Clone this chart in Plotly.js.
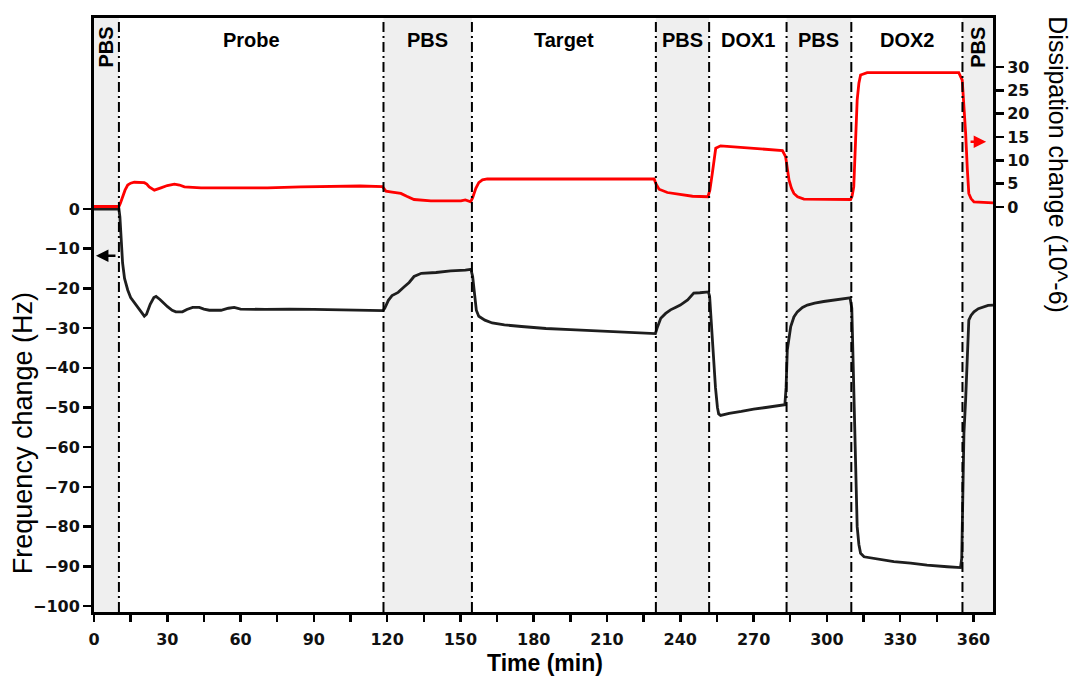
<!DOCTYPE html>
<html>
<head>
<meta charset="utf-8">
<script src="https://cdn.plot.ly/plotly-3.0.1.min.js"></script>
<style>html,body{margin:0;padding:0;background:#fff;}#chart{width:1072px;height:679px;}</style>
</head>
<body>
<div id="chart"></div>
<script>
// ---- data ----
var boundaries = [10.2, 118.5, 154.7, 230, 251.8, 283.5, 310, 355.5];
var segmentNames = ["PBS", "Probe", "PBS", "Target", "PBS", "DOX1", "PBS", "DOX2", "PBS"];
var segmentShaded = [true, false, true, false, true, false, true, false, true];
var timeMax = 368;

var tFreq = [0,5,10.2,10.6,11.2,11.7,12.5,13.8,15,16.5,18,19.5,20.6,21.5,23,24.5,25.4,27,29,30.1,32,33.5,36.2,38,40.4,43.1,45,47.2,52,55,57.4,60,70,80,90,100,110,118.3,
  119,120.5,122,124.5,127,129,131,134,140,146,152,154.3,
  155,155.8,156.5,157.5,160,163,168,175,185,195,205,215,225,229.8,
  230.5,232,234,236,238,240,243,245.5,248,251.5,
  252,252.8,253.6,254.4,255.2,255.7,256.5,260,265,270,275,280,282.8,
  283.3,283.8,285.2,286.5,287.9,290,292,295,298.7,303,306,309.5,
  310.2,311,311.7,312.4,313.1,313.8,315.2,320.6,327.4,334.3,341,349.3,354.7,355.2,
  355.4,356.1,356.8,357.4,358.1,359,360.2,362,364.2,366,368];
var freq = [0,0,0,-2,-8,-13.6,-17.5,-20.4,-22.3,-23.6,-25,-26.3,-27,-26.5,-24,-22.3,-22,-22.8,-24,-24.6,-25.5,-25.9,-25.9,-25.3,-24.8,-24.8,-25.2,-25.5,-25.5,-25,-24.8,-25.2,-25.3,-25.2,-25.3,-25.4,-25.5,-25.6,
  -25,-23,-21.8,-21,-19.6,-18.5,-17,-16.2,-16,-15.6,-15.4,-15.2,
  -17,-22,-25.5,-27,-28,-28.7,-29.2,-29.6,-30.1,-30.4,-30.7,-31,-31.3,-31.4,
  -30,-27.5,-26.3,-25.4,-24.8,-24.2,-22.9,-21.2,-21.1,-20.9,
  -22,-30,-38,-45,-50,-51.6,-52,-51.5,-51,-50.4,-50,-49.6,-49.3,
  -45,-35.5,-29.6,-27.2,-25.9,-24.8,-24.2,-23.7,-23.3,-22.9,-22.7,-22.4,
  -25,-48,-66,-80,-84.5,-86.7,-87.6,-88.2,-88.8,-89.2,-89.7,-90.1,-90.3,-88,
  -81.7,-56.5,-48,-36,-28,-26.8,-25.9,-25.1,-24.6,-24.3,-24.2];

var tDiss = [0,5,10.2,10.8,11.7,12.7,13.8,15,16.5,20.6,21.6,22.6,24.7,26,27.4,30,32.9,35,37,43.8,57.4,71,84.7,100,109,118.1,
  119.5,122,125.6,128,131,137.9,150.2,152,154.2,
  155,156.3,157.5,159,161,229.3,
  230,231.3,234.7,241.5,245,251.3,
  252.1,253.1,253.8,254.5,256.5,264.7,272.9,281.8,
  283.1,284.5,285.5,286.5,288,290.6,309.7,
  310.3,311,311.7,312.4,313.1,313.8,316.5,354,
  355.4,356.1,356.8,357.5,358.1,359,360.2,368];
var diss = [0.1,0.1,0.1,0.8,2.2,3.6,4.7,5.1,5.3,5.2,4.9,4.3,3.6,3.8,4.1,4.6,4.9,4.7,4.3,4.1,4.1,4.1,4.3,4.4,4.5,4.35,
  3.4,3.2,2.9,2.3,1.6,1.3,1.3,1.5,1.1,
  2,4,5.2,5.8,6,6,
  5,3.8,3.1,2.6,2.3,2.2,
  3.6,7.2,10.5,12.6,13.1,12.8,12.4,12.1,
  10.8,5.8,4,2.9,2.2,1.7,1.6,
  2.3,4.3,13,22.9,26.5,28.3,28.8,28.8,
  27.2,22,15.8,8,2.9,1.8,1.1,0.9];

var freqTicks = [-100,-90,-80,-70,-60,-50,-40,-30,-20,-10,0];
var dissTicks = [0,5,10,15,20,25,30];
var freqArrowLevel = -11.8;
var dissArrowLevel = 14;

// ---- build shapes / annotations ----
var edges = [0].concat(boundaries).concat([timeMax]);
var shapes = [];
var annotations = [];
for (var i = 0; i < segmentNames.length; i++) {
  var a = edges[i], b = edges[i + 1];
  if (segmentShaded[i]) {
    shapes.push({type: 'rect', xref: 'x', yref: 'paper', x0: a, x1: b, y0: 0, y1: 1,
      fillcolor: '#efefef', line: {width: 0}, layer: 'below'});
  }
  var narrow = (b - a) < 15;
  annotations.push({
    xref: 'x', yref: 'paper', x: (a + b) / 2, y: narrow ? 0.951 : 0.963,
    text: '<b>' + segmentNames[i] + '</b>', showarrow: false,
    textangle: narrow ? -90 : 0, xanchor: 'center', yanchor: 'middle',
    font: {family: 'Liberation Sans, Arial, sans-serif', size: 20, color: '#000'}
  });
}
boundaries.forEach(function (bx) {
  shapes.push({type: 'line', xref: 'x', yref: 'paper', x0: bx, x1: bx, y0: 0, y1: 1,
    line: {color: '#000', width: 2, dash: '10px,4px,2px,4px'}, layer: 'above'});
});

// axis titles
annotations.push({xref: 'paper', yref: 'paper', x: 0.5017, y: -0.0859, showarrow: false,
  text: '<b>Time (min)</b>', xanchor: 'center', yanchor: 'middle',
  font: {family: 'Liberation Sans, Arial, sans-serif', size: 23, color: '#000'}});
annotations.push({xref: 'paper', yref: 'paper', x: -0.079, y: 0.301, showarrow: false,
  text: 'Frequency change (Hz)', textangle: -90, xanchor: 'center', yanchor: 'middle',
  font: {family: 'Liberation Sans, Arial, sans-serif', size: 27, color: '#000'}});
annotations.push({xref: 'paper', yref: 'paper', x: 1.072, y: 0.7525, showarrow: false,
  text: 'Dissipation change (10^-6)', textangle: 90, xanchor: 'center', yanchor: 'middle',
  font: {family: 'Liberation Sans, Arial, sans-serif', size: 25, color: '#000'}});

// arrows
annotations.push({xref: 'x', yref: 'y', axref: 'x', ayref: 'y', x: 0.8, y: freqArrowLevel,
  ax: 9.4, ay: freqArrowLevel, text: '', showarrow: true, arrowhead: 2, arrowsize: 1,
  arrowwidth: 2.5, arrowcolor: '#000'});
annotations.push({xref: 'x', yref: 'y2', axref: 'x', ayref: 'y2', x: 365.2, y: dissArrowLevel,
  ax: 358.2, ay: dissArrowLevel, text: '', showarrow: true, arrowhead: 2, arrowsize: 1,
  arrowwidth: 2.5, arrowcolor: '#ff0000'});

var tickFont = {family: 'DejaVu Sans, Verdana, sans-serif', size: 16, color: '#111', weight: 'bold'};

var traces = [
  {x: tFreq, y: freq, type: 'scatter', mode: 'lines', yaxis: 'y',
   line: {color: '#1e1e1e', width: 2.8}, name: 'Frequency', hoverinfo: 'skip'},
  {x: tDiss, y: diss, type: 'scatter', mode: 'lines', yaxis: 'y2',
   line: {color: '#ff0000', width: 2.8}, name: 'Dissipation', hoverinfo: 'skip'}
];

var layout = {
  width: 1072, height: 679,
  margin: {l: 94, r: 79, t: 18, b: 67, pad: 0},
  paper_bgcolor: '#fff', plot_bgcolor: '#fff',
  showlegend: false,
  xaxis: {range: [0, timeMax], dtick: 30, tick0: 0, showgrid: false, zeroline: false,
    showline: true, linecolor: '#000', linewidth: 3, mirror: true,
    ticks: 'outside', ticklen: 7, tickwidth: 2.5, tickcolor: '#000',
    ticklabelstandoff: 4,
    minor: {dtick: 15, ticks: 'outside', ticklen: 7, tickwidth: 2.5, tickcolor: '#000'},
    tickfont: tickFont},
  yaxis: {range: [-101.5, 48.1], tickvals: freqTicks, showgrid: false, zeroline: false,
    showline: true, linecolor: '#000', linewidth: 3,
    ticks: 'outside', ticklen: 8, tickwidth: 2.5, tickcolor: '#000', tickfont: tickFont},
  yaxis2: {range: [-86.8, 40.5], tickvals: dissTicks, overlaying: 'y', side: 'right',
    showgrid: false, zeroline: false, showline: true, linecolor: '#000', linewidth: 3,
    ticks: 'outside', ticklen: 8, tickwidth: 2.5, tickcolor: '#000', tickfont: tickFont},
  shapes: shapes,
  annotations: annotations
};

Plotly.newPlot('chart', traces, layout, {displayModeBar: false, staticPlot: true});
</script>
</body>
</html>
